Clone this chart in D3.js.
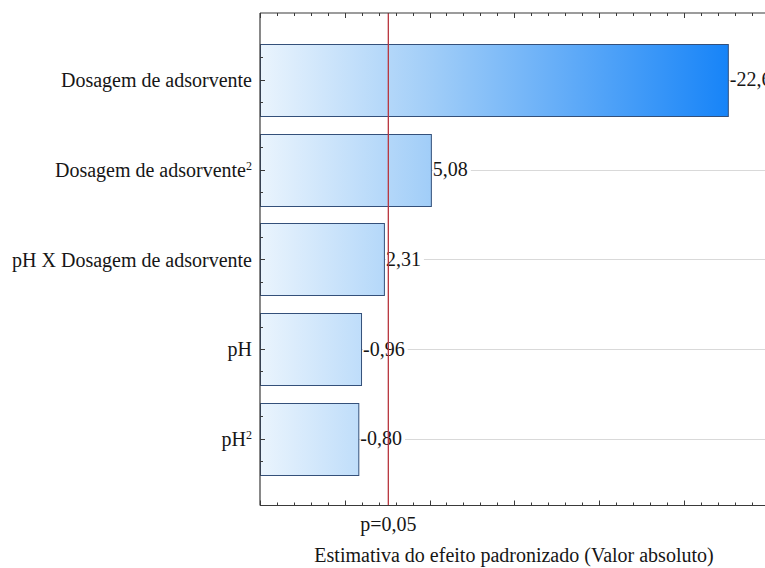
<!DOCTYPE html>
<html>
<head>
<meta charset="utf-8">
<script src="https://cdn.jsdelivr.net/npm/d3@7/dist/d3.min.js"></script>
<style>
  html, body { margin: 0; padding: 0; background: #fff; }
  svg { display: block; }
</style>
</head>
<body>
<svg id="chart" width="765" height="568" font-family="Liberation Serif"></svg>
<script>
// ---- data ----
const categories = ["Dosagem de adsorvente", "Dosagem de adsorvente", "pH X Dosagem de adsorvente", "pH", "pH"];
const categoryKeys = ["A", "A2", "AB", "B", "B2"];
const superscripts = ["", "2", "", "", "2"];
const effects = [-22.6, 5.08, 2.31, -0.96, -0.80];
const effectLabels = ["-22,6", "5,08", "2,31", "-0,96", "-0,80"];
const pCritical = 2.5706;
const pLabel = "p=0,05";
const xDomain = [-5, 25];
const xTitle = "Estimativa do efeito padronizado (Valor absoluto)";

// ---- layout ----
const svg = d3.select("#chart");
const pL = 260, pR = 768.5, pT = 13, pB = 505.5;
const fs = 20;
const textColor = "#161616";

const x = d3.scaleLinear().domain(xDomain).range([pL, pR]);
const y = d3.scaleBand().domain(categoryKeys).range([pT, pB]).paddingInner(0.2).paddingOuter(0.345);

const defs = svg.append("defs");
const grad = defs.append("linearGradient")
  .attr("id", "barGrad").attr("gradientUnits", "userSpaceOnUse")
  .attr("x1", x(xDomain[0])).attr("x2", x(d3.max(effects, d => Math.abs(d))))
  .attr("y1", 0).attr("y2", 0);
grad.append("stop").attr("offset", 0).attr("stop-color", "#eaf4fd");
grad.append("stop").attr("offset", 0.35).attr("stop-color", "#a4cff8");
grad.append("stop").attr("offset", 1).attr("stop-color", "#1784f8");

// gridlines
svg.append("g").selectAll("line").data(categoryKeys).join("line")
  .attr("x1", pL).attr("x2", 765)
  .attr("y1", d => Math.round(y(d) + y.bandwidth() / 2) + 0.5).attr("y2", d => Math.round(y(d) + y.bandwidth() / 2) + 0.5)
  .attr("stroke", "#d9d9d9").attr("stroke-width", 1);

// bars
svg.append("g").selectAll("rect").data(effects).join("rect")
  .attr("x", x(xDomain[0]) + 0.5)
  .attr("y", (d, i) => Math.round(y(categoryKeys[i])) + 0.5)
  .attr("width", d => x(Math.abs(d)) - x(xDomain[0]))
  .attr("height", Math.round(y.bandwidth()))
  .attr("fill", "url(#barGrad)")
  .attr("stroke", "#34507a").attr("stroke-width", 1);

// value labels (with white background)
const lab = svg.append("g");
const labelTexts = [];
effects.forEach((v, i) => {
  const cy = y(categoryKeys[i]) + y.bandwidth() / 2;
  const bg = lab.append("rect").attr("fill", "#fff");
  const t = lab.append("text")
    .attr("x", x(Math.abs(v)) + 2).attr("y", cy).attr("dy", "0.33em")
    .attr("font-size", fs).attr("fill", textColor).text(effectLabels[i]);
  const bb = t.node().getBBox();
  bg.attr("x", bb.x).attr("y", cy - 4).attr("width", bb.width + 3).attr("height", 8);
  labelTexts.push(t);
});

// p critical line
svg.append("line")
  .attr("x1", x(pCritical)).attr("x2", x(pCritical))
  .attr("y1", pT).attr("y2", pB)
  .attr("stroke", "#b8343c").attr("stroke-width", 1.3);
labelTexts.forEach(t => t.raise());

// frame axes
const axisColor = "#3a3a3a";
svg.append("line").attr("x1", pL).attr("x2", 765).attr("y1", pT).attr("y2", pT).attr("stroke", axisColor).attr("stroke-width", 1.2);
svg.append("line").attr("x1", pL).attr("x2", 765).attr("y1", pB).attr("y2", pB).attr("stroke", axisColor).attr("stroke-width", 1.2);
svg.append("line").attr("x1", pL).attr("x2", pL).attr("y1", pT).attr("y2", pB).attr("stroke", axisColor).attr("stroke-width", 1.2);

// x ticks (inside, top and bottom)
const xt = d3.range(xDomain[0], xDomain[1] + 1, 1);
const xtG = svg.append("g");
xt.forEach(v => {
  const major = v % 5 === 0;
  const len = major ? 5 : 3;
  const px = Math.round(x(v)) + 0.5;
  xtG.append("line").attr("x1", px).attr("x2", px).attr("y1", pB).attr("y2", pB - len).attr("stroke", axisColor);
  xtG.append("line").attr("x1", px).attr("x2", px).attr("y1", pT).attr("y2", pT + len).attr("stroke", axisColor);
});

// y ticks (inside)
const ytG = svg.append("g");
categoryKeys.forEach(k => {
  const c = y(k) + y.bandwidth() / 2;
  [[-y.step() / 4, 3], [0, 5], [y.step() / 4, 3]].forEach(([o, len]) => {
    const py = Math.round(c + o) + 0.5;
    ytG.append("line").attr("x1", pL).attr("x2", pL + len).attr("y1", py).attr("y2", py).attr("stroke", axisColor);
  });
});

// category labels
const cl = svg.append("g");
categories.forEach((c, i) => {
  const cy = y(categoryKeys[i]) + y.bandwidth() / 2;
  const t = cl.append("text")
    .attr("x", 252).attr("y", cy).attr("dy", "0.37em")
    .attr("text-anchor", "end").attr("font-size", fs).attr("fill", textColor);
  t.append("tspan").text(c);
  if (superscripts[i]) {
    t.append("tspan").attr("font-size", 12).attr("dy", "-0.6em").text(superscripts[i]);
  }
});

// p label & title
svg.append("text").attr("x", x(pCritical)).attr("y", 531).attr("text-anchor", "middle").attr("font-size", fs).attr("fill", textColor).text(pLabel);
svg.append("text").attr("x", 514).attr("y", 562).attr("text-anchor", "middle").attr("font-size", fs).attr("fill", textColor).text(xTitle);
</script>
</body>
</html>
